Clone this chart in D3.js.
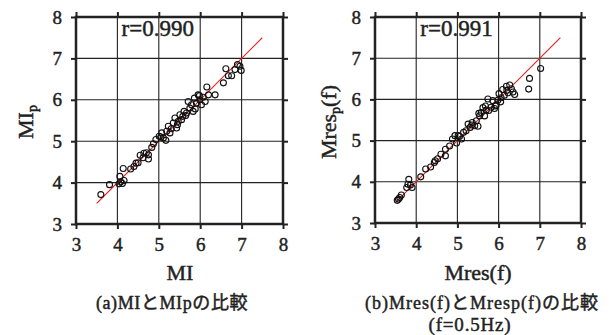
<!DOCTYPE html>
<html><head><meta charset="utf-8">
<script src="https://cdn.jsdelivr.net/npm/d3@7"></script>
<style>body{margin:0;background:#fff}svg{display:block}text{stroke:#222;stroke-width:0.45px}</style>
</head><body>
<svg id="c" width="616" height="335"></svg>
<script>
const ticks = [3, 4, 5, 6, 7, 8];
const fitA = [[3.5, 3.5], [7.5, 7.5]];
const fitB = [[3.5, 3.5], [7.5, 7.5]];
const rA = "r=0.990", rB = "r=0.991";
const miX = [3.60,3.81,4.06,4.14,4.08,4.12,4.16,4.04,4.32,4.40,4.45,4.55,4.64,4.75,4.75,4.62,4.83,4.87,4.93,5.01,5.07,5.11,5.17,5.19,5.23,5.27,5.35,5.39,5.43,5.47,5.51,5.55,5.61,5.67,5.71,5.75,5.79,5.83,5.86,5.91,5.95,5.99,6.03,6.07,6.12,6.16,6.20,6.36,6.56,6.62,6.68,6.76,6.84,6.90,6.96,6.99,5.30,5.58,5.88,5.98,4.50,4.70,5.05,5.45,5.65];
const miY = [3.71,3.95,4.15,4.34,4.02,3.98,4.05,3.97,4.33,4.39,4.47,4.66,4.71,4.57,4.67,4.60,4.85,4.94,5.04,5.12,5.20,5.08,5.02,5.24,5.36,5.20,5.44,5.56,5.32,5.48,5.64,5.52,5.72,5.68,5.96,5.80,5.88,5.72,6.04,5.92,6.12,6.00,5.88,6.06,5.96,6.31,6.12,6.12,6.41,6.75,6.58,6.58,6.73,6.85,6.81,6.71,5.30,5.60,5.78,6.10,4.48,4.72,5.10,5.40,5.62];
const mrX = [3.54,3.57,3.60,3.64,3.77,3.82,3.80,3.86,3.90,4.11,4.23,4.35,4.44,4.46,4.52,4.60,4.71,4.71,4.81,4.88,4.94,4.98,5.02,5.10,5.15,5.21,5.26,5.31,5.36,5.42,5.46,5.50,5.54,5.58,5.62,5.66,5.68,5.74,5.76,5.82,5.86,5.90,5.94,5.98,6.01,6.06,6.10,6.14,6.19,6.23,6.27,6.31,6.35,6.39,6.73,6.75,7.02,5.52,5.70,5.92,6.05,6.20,5.35,5.05];
const mrY = [3.55,3.58,3.62,3.68,3.86,4.06,3.94,3.92,3.86,4.12,4.31,4.36,4.47,4.51,4.56,4.67,4.79,4.63,4.87,5.04,5.12,4.94,5.12,5.04,5.20,5.24,5.40,5.32,5.44,5.36,5.48,5.35,5.60,5.68,5.80,5.60,5.84,6.01,5.73,5.81,5.97,5.78,5.86,5.98,6.14,6.04,6.24,6.10,6.32,6.16,6.35,6.26,6.18,6.12,6.25,6.51,6.75,5.66,5.74,5.84,5.94,6.22,5.38,5.10];

const svg = d3.select("#c");
const serif = "'Liberation Serif', 'Noto Sans CJK JP', serif";

function panel(x0, x1, y0, y1, xs, ys, fit, rtxt) {
  const x = d3.scaleLinear().domain([3, 8]).range([x0, x1]);
  const y = d3.scaleLinear().domain([3, 8]).range([y1, y0]);
  const g = svg.append("g");
  g.selectAll(".gx").data(ticks.slice(1, -1)).join("line")
    .attr("x1", d => x(d)).attr("x2", d => x(d)).attr("y1", y0).attr("y2", y1)
    .attr("stroke", "#222").attr("stroke-width", 1.1);
  g.selectAll(".gy").data(ticks.slice(1, -1)).join("line")
    .attr("y1", d => y(d)).attr("y2", d => y(d)).attr("x1", x0).attr("x2", x1)
    .attr("stroke", "#222").attr("stroke-width", 1.1);
  const fmt = d3.format("d");
  const ax = [
    [d3.axisBottom(x), `translate(0,${y1})`, true],
    [d3.axisTop(x), `translate(0,${y0})`, false],
    [d3.axisLeft(y), `translate(${x0},0)`, true],
    [d3.axisRight(y), `translate(${x1},0)`, false]
  ];
  ax.forEach(([a, t, lab]) => {
    const gg = g.append("g").attr("transform", t)
      .call(a.tickValues(ticks).tickFormat(lab ? fmt : "").tickSizeInner(5).tickSizeOuter(0).tickPadding(lab ? 9 : 0));
    gg.select(".domain").remove();
    gg.selectAll(".tick line").attr("stroke", "#222").attr("stroke-width", 2);
    gg.selectAll("text").attr("font-family", serif).attr("font-size", 19).attr("fill", "#222");
  });
  g.append("rect").attr("x", x0).attr("y", y0).attr("width", x1 - x0).attr("height", y1 - y0)
    .attr("fill", "none").attr("stroke", "#222").attr("stroke-width", 2.5);
  g.append("line").attr("x1", x(fit[0][0])).attr("y1", y(fit[0][1]))
    .attr("x2", x(fit[1][0])).attr("y2", y(fit[1][1]))
    .attr("stroke", "#e8231f").attr("stroke-width", 1.2);
  g.selectAll("circle").data(xs.map((v, i) => [v, ys[i]])).join("circle")
    .attr("cx", d => x(d[0])).attr("cy", d => y(d[1])).attr("r", 3)
    .attr("fill", "none").attr("stroke", "#111").attr("stroke-width", 1.1);
  g.append("text").attr("x", x(4.1)).attr("y", y(7.55)).text(rtxt)
    .attr("font-family", serif).attr("font-size", 23).attr("fill", "#222");
  return {x, y};
}

panel(76, 283, 17, 224, miX, miY, fitA, rA);
panel(375, 581, 17, 223, mrX, mrY, fitB, rB);

function t(x, y, s, size, extra) {
  const e = svg.append("text").attr("x", x).attr("y", y).attr("text-anchor", "middle")
    .attr("font-family", serif).attr("font-size", size).attr("fill", "#222");
  if (extra) extra(e); else e.text(s);
  return e;
}
t(180, 280, "MI", 22);
t(478, 280, "Mres(f)", 22);
t(0, 0, null, 22, e => {
  e.attr("transform", "translate(33,122) rotate(-90)");
  e.append("tspan").text("MI");
  e.append("tspan").attr("font-size", 14).attr("dy", 4).text("p");
});
t(0, 0, null, 22, e => {
  e.attr("transform", "translate(336,122) rotate(-90)");
  e.append("tspan").text("Mres");
  e.append("tspan").attr("font-size", 14).attr("dy", 4).text("p");
  e.append("tspan").attr("dy", -4).text("(f)");
});
t(172, 309, "(a)MIとMIpの比較", 18).attr("letter-spacing", 0.6);
t(482, 309, "(b)Mres(f)とMresp(f)の比較", 18).attr("letter-spacing", 1);
t(470, 331, "(f=0.5Hz)", 19).attr("letter-spacing", 0.8);
</script>
</body></html>
